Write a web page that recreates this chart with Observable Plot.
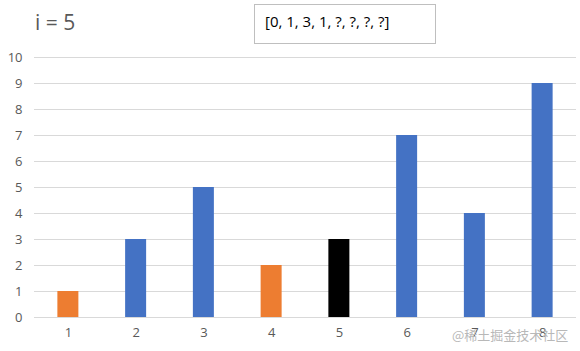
<!DOCTYPE html>
<html>
<head>
<meta charset="utf-8">
<script src="https://cdn.jsdelivr.net/npm/d3@7"></script>
<script src="https://cdn.jsdelivr.net/npm/@observablehq/plot@0.6"></script>
<style>
  html, body { margin: 0; padding: 0; background: #fff; }
  #wrap { position: relative; width: 580px; height: 351px; font-family: "Open Sans", "Noto Sans", sans-serif; }
  #title { position: absolute; left: 35px; top: 8px; font-size: 21px; color: #595959; }
  #box { position: absolute; left: 254px; top: 4px; width: 182px; height: 40px; border: 1px solid #bfbfbf; box-sizing: border-box; font-size: 15px; color: #000; padding: 6px 0 0 10px; }
  #wm { position: absolute; left: 452px; top: 325px; font-size: 13px; color: #b8b8b8; font-family: "Noto Sans CJK SC", sans-serif; }
  svg { display: block; }
</style>
</head>
<body>
<div id="wrap">
  <div id="chart"></div>
  <div id="title">i = 5</div>
  <div id="box">[0, 1, 3, 1, ?, ?, ?, ?]</div>
  <div id="wm">@稀土掘金技术社区</div>
</div>
<script>
const categories = ["1", "2", "3", "4", "5", "6", "7", "8"];
const values = [1, 3, 5, 2, 3, 7, 4, 9];
const states = ["done", "todo", "todo", "done", "current", "todo", "todo", "todo"];
const yTicks = [0, 1, 2, 3, 4, 5, 6, 7, 8, 9, 10];

const data = categories.map((c, i) => ({cat: c, value: values[i], state: states[i]}));

const chart = Plot.plot({
  width: 580,
  height: 351,
  marginLeft: 34,
  marginRight: 4,
  marginTop: 57,
  marginBottom: 34,
  style: {fontFamily: "'Open Sans', 'Noto Sans', sans-serif", fontSize: "13px", color: "#595959", background: "transparent"},
  x: {domain: categories, paddingInner: 0.69, paddingOuter: 0.345, round: false, label: null, tickSize: 0, tickPadding: 10},
  y: {domain: [0, 10], ticks: yTicks, label: null, tickSize: 0, tickPadding: 12},
  color: {domain: ["done", "todo", "current"], range: ["#ED7D31", "#4472C4", "#000000"]},
  marks: [
    Plot.gridY(yTicks, {stroke: "#d9d9d9", strokeOpacity: 1}),
    Plot.barY(data, {x: "cat", y: "value", fill: "state"})
  ]
});
document.getElementById("chart").appendChild(chart);
</script>
</body>
</html>
